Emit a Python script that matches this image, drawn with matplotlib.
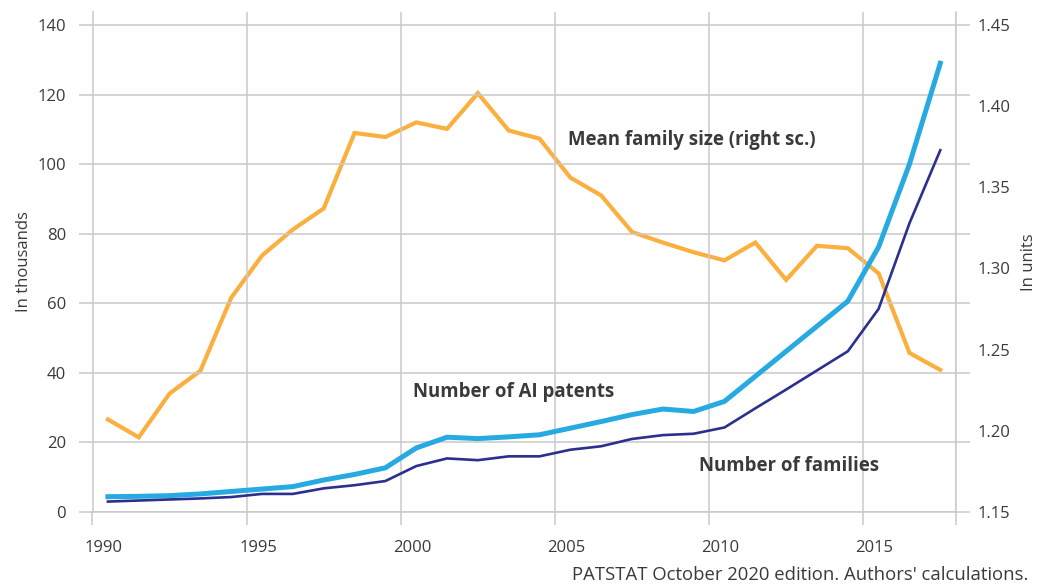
import matplotlib
matplotlib.use("Agg")
import matplotlib.pyplot as plt
import numpy as np

years = list(range(1990, 2018))
ai_patents = [4.4, 4.5, 4.7, 5.2, 5.9, 6.6, 7.3, 9.2, 10.8, 12.7, 18.4, 21.5, 21.1, 21.6,
              22.2, 24.1, 26.0, 28.0, 29.6, 28.9, 31.8, 39.0, 46.2, 53.4, 60.6, 76.2, 100.0, 129.0]
families = [3.0, 3.3, 3.6, 3.9, 4.3, 5.2, 5.2, 6.8, 7.7, 8.9, 13.2, 15.4, 14.9, 16.0,
            16.0, 17.9, 18.9, 21.0, 22.1, 22.5, 24.3, 29.8, 35.2, 40.7, 46.2, 58.4, 83.0, 104.0]
mean_family_size = [1.207, 1.196, 1.223, 1.237, 1.282, 1.308, 1.324, 1.337, 1.3835, 1.381,
                    1.390, 1.386, 1.408, 1.385, 1.380, 1.356, 1.345, 1.3225, 1.316, 1.310,
                    1.305, 1.316, 1.293, 1.314, 1.3125, 1.297, 1.248, 1.2375]

left_ticks = [0, 20, 40, 60, 80, 100, 120, 140]
right_ticks = [1.15, 1.20, 1.25, 1.30, 1.35, 1.40, 1.45]
right_tick_labels = ["1.15", "1.20", "1.25", "1.30", "1.35", "1.40", "1.45"]
x_tick_labels = ["1990", "1995", "2000", "2005", "2010", "2015"]

ORANGE = "#FBAF3F"
BLUE = "#27AAE1"
NAVY = "#2B2F8E"
GRID = "#C9C9CD"
TXT = "#3A3A3A"

plt.rcParams["font.family"] = ["Open Sans", "DejaVu Sans"]

fig = plt.figure(figsize=(10.45, 5.86), dpi=100)
ax = fig.add_axes([92.5 / 1045, (586 - 512) / 586, (955.7 - 92.5) / 1045, 500 / 586])
ax2 = ax.twinx()

ax.set_zorder(2)
ax2.set_zorder(1)
ax.patch.set_visible(False)

ymax_left = 140 * 500 / 487
ymax_right = 1.15 + 0.30 * 500 / 487
ax.set_ylim(0, ymax_left)
ax2.set_ylim(1.15, ymax_right)
ax.set_xlim(1989.5, 2017.5)

# grid
ax.set_yticks(left_ticks)
ax.set_yticklabels([str(t) for t in left_ticks])
ax.grid(axis="y", color=GRID, linewidth=1.1, zorder=0)
major_x = [1989.5, 1994.5, 1999.5, 2004.5, 2009.5, 2014.5, 2017.5]
ax.set_xticks(major_x)
ax.set_xticklabels([""] * len(major_x))
ax.grid(axis="x", which="major", color=GRID, linewidth=1.1, zorder=0)
ax.set_xticks([int(l) - 0.13 for l in x_tick_labels], minor=True)
ax.set_xticklabels(x_tick_labels, minor=True)
ax.tick_params(axis="x", which="major", length=9, width=1.1, color=GRID, direction="out")
ax.tick_params(axis="x", which="minor", length=0, pad=20, labelsize=12, labelcolor=TXT)
ax.tick_params(axis="y", which="major", left=True, right=True, length=10, width=1.1,
               color=GRID, direction="out", pad=9, labelsize=12, labelcolor=TXT)

for s in ["top"]:
    ax.spines[s].set_visible(False)
    ax2.spines[s].set_visible(False)
for s in ["left", "right", "bottom"]:
    ax.spines[s].set_color(GRID)
    ax.spines[s].set_linewidth(1.1)
    ax2.spines[s].set_visible(False)

ax2.set_yticks(right_ticks)
ax2.set_yticklabels(right_tick_labels)
ax2.tick_params(axis="y", length=0, pad=15.5, labelsize=12, labelcolor=TXT)

# lines
ax2.plot(years, mean_family_size, color=ORANGE, linewidth=3.0, solid_joinstyle="miter", zorder=3)
ax.plot(years, ai_patents, color=BLUE, linewidth=3.6, zorder=4)
ax.plot(years, families, color=NAVY, linewidth=1.9, zorder=5)

ax.set_ylabel("In thousands", fontsize=12, color=TXT, labelpad=4, fontweight="medium")
ax2.set_ylabel("In units", fontsize=12, color=TXT, labelpad=8, fontweight="medium")

ann = dict(fontsize=13.4, fontweight="bold", color=TXT, va="center", ha="left", zorder=6)
ax.text(2004.93, 106.9, "Mean family size (right sc.)", **ann)
ax.text(1999.9, 34.5, "Number of AI patents", **ann)
ax.text(2009.18, 13.2, "Number of families", **ann)

fig.text(1028 / 1045, 1 - 575 / 586, "PATSTAT October 2020 edition. Authors' calculations.",
         ha="right", va="center", fontsize=13.3, color=TXT)

fig.savefig("out.png", dpi=100)
